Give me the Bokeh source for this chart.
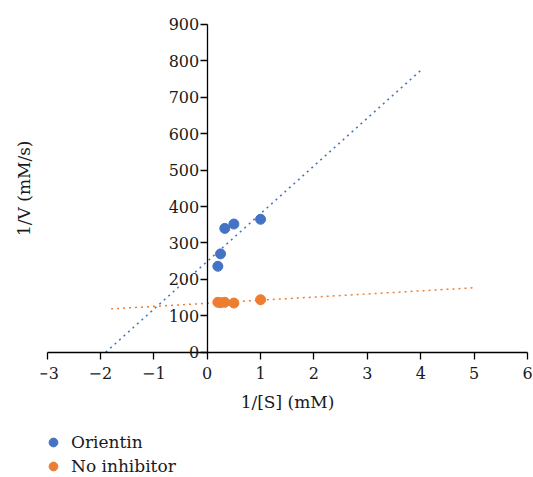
import math
from bokeh.plotting import figure
from bokeh.models import Range1d, Title, Legend, LegendItem, CustomJSTickFormatter, FixedTicker
from bokeh.embed import file_html
from bokeh.resources import INLINE

# ---- data ----
inv_s = [0.2, 0.25, 0.33, 0.5, 1.0]
orientin = [236, 270, 340, 352, 365]
no_inhibitor = [137, 136, 137, 135, 144]

fit_orientin_x = [-1.9, 4.0]
fit_orientin_y = [0, 774]
fit_noinh_x = [-1.8, 5.0]
fit_noinh_y = [119, 177]

x_ticks = [-3, -2, -1, 0, 1, 2, 3, 4, 5, 6]
y_ticks = [0, 100, 200, 300, 400, 500, 600, 700, 800, 900]

BLUE = "#4472C4"
ORANGE = "#ED7D31"
FONT = "DejaVu Serif"
TXT = "#1a1a1a"

p = figure(width=533, height=477, x_range=Range1d(-3.122, 6.112), y_range=Range1d(-344.1, 965.9),
           output_backend="svg", toolbar_location=None,
           min_border_left=40, min_border_right=0, min_border_top=0, min_border_bottom=0)
p.xgrid.visible = False
p.ygrid.visible = False
p.outline_line_color = None
p.background_fill_color = "white"

# lines
p.line(fit_orientin_x, fit_orientin_y, line_color=BLUE, line_width=1.5, line_dash="2 4")
p.line(fit_noinh_x, fit_noinh_y, line_color=ORANGE, line_width=1.5, line_dash="2 4")

r1 = p.scatter(inv_s, orientin, size=10, fill_color=BLUE, line_color=BLUE)
r2 = p.scatter(inv_s, no_inhibitor, size=10, fill_color=ORANGE, line_color=ORANGE)

# axes
fmt = CustomJSTickFormatter(code="return tick < 0 ? '\\u2212' + Math.abs(tick) : tick.toString();")
for ax in (p.xaxis[0], p.yaxis[0]):
    ax.axis_line_color = "black"
    ax.axis_line_width = 1.3
    ax.major_tick_line_color = "black"
    ax.major_tick_line_width = 1.3
    ax.major_tick_in = 0
    ax.major_tick_out = 7
    ax.minor_tick_line_color = None
    ax.major_label_text_font = FONT
    ax.major_label_text_font_size = "16px"
    ax.major_label_text_color = TXT
    ax.formatter = fmt

p.xaxis[0].ticker = FixedTicker(ticks=x_ticks)
p.yaxis[0].ticker = FixedTicker(ticks=y_ticks)
p.xaxis[0].bounds = (-3, 6)
p.yaxis[0].bounds = (0, 900)
p.xaxis[0].fixed_location = 0
p.yaxis[0].fixed_location = 0
p.yaxis[0].major_label_standoff = 1
p.xaxis[0].major_label_standoff = 8

p.xaxis[0].axis_label = "1/[S] (mM)"
p.xaxis[0].axis_label_text_font = FONT
p.xaxis[0].axis_label_text_font_size = "17px"
p.xaxis[0].axis_label_text_font_style = "normal"
p.xaxis[0].axis_label_text_color = TXT
p.xaxis[0].axis_label_standoff = 9

p.add_layout(Title(text="1/V (mM/s)", align="right", text_font=FONT, text_font_size="17px",
                   text_font_style="normal", text_color=TXT, standoff=14, offset=140), "left")

legend = Legend(items=[LegendItem(label="Orientin", renderers=[r1]),
                       LegendItem(label="No inhibitor", renderers=[r2])],
                location=(2, 0), orientation="vertical",
                label_text_font=FONT, label_text_font_size="17px", label_text_color=TXT,
                glyph_width=22, glyph_height=22, label_height=22, spacing=2,
                label_standoff=7, padding=0, margin=0,
                border_line_color=None, background_fill_alpha=0)
p.add_layout(legend)

open("out.html", "w").write(file_html(p, INLINE))
